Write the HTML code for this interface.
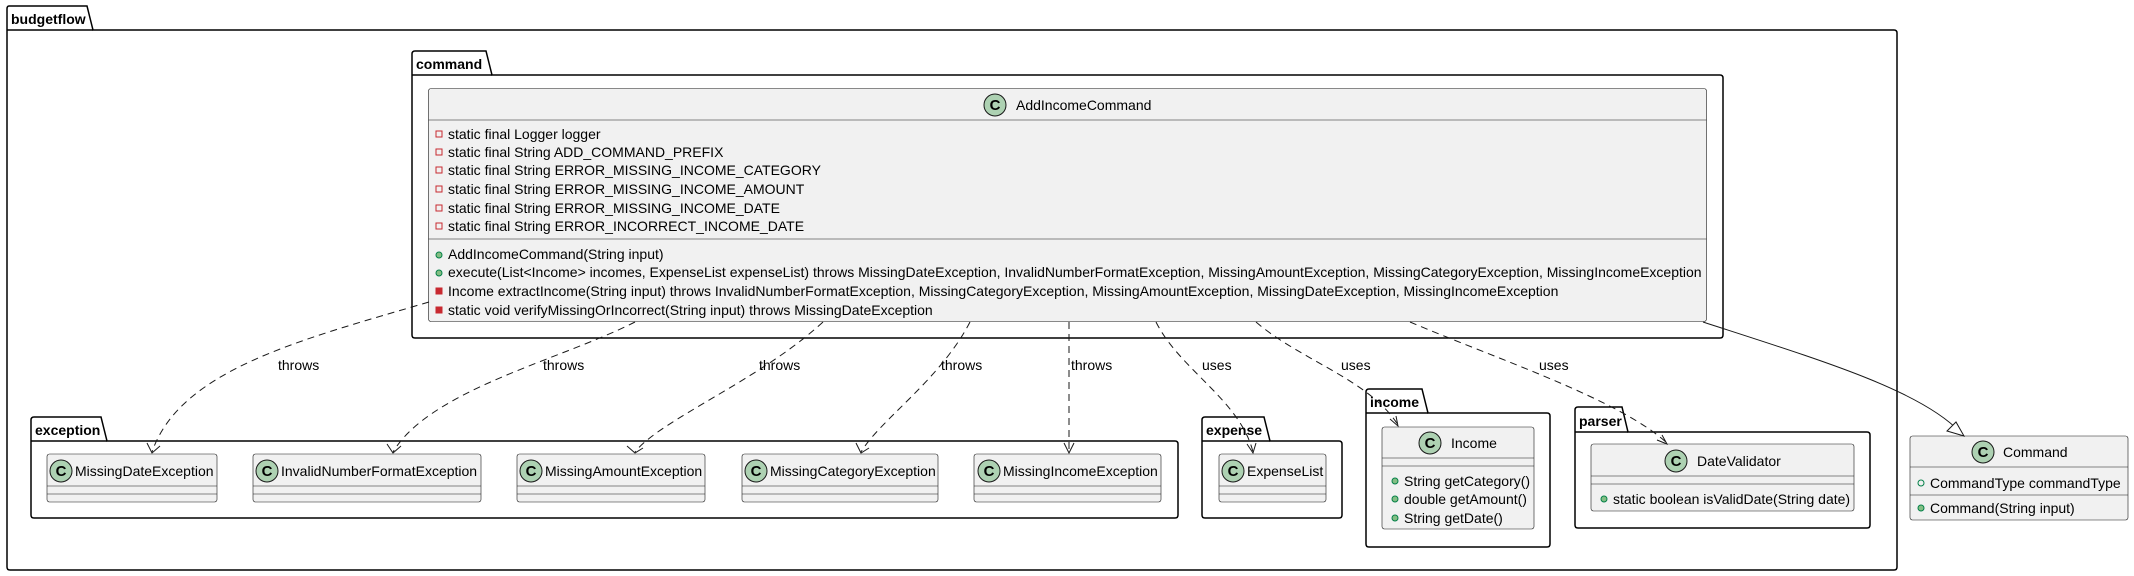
<!DOCTYPE html>
<html><head><meta charset="utf-8"><style>
html,body{margin:0;padding:0;background:#fff;}
svg{display:block;font-family:"Liberation Sans",sans-serif;}
</style></head><body>
<svg width="2134" height="576" viewBox="0 0 2134 576" xmlns="http://www.w3.org/2000/svg">
<defs>
<g id="cicon"><circle r="11" fill="#ADD1B2" stroke="#181818" stroke-width="1"/><text x="0" y="5" text-anchor="middle" font-size="15" font-weight="bold" fill="#000">C</text></g>
</defs>
<g fill="none" stroke="#000" stroke-width="1.5">
<path d="M9,6 L87,6 L93,30 L1894,30 Q1897,30 1897,33 L1897,567 Q1897,570 1894,570 L10,570 Q7,570 7,567 L7,9 Q7,6 9,6 Z"/>
<line x1="7" y1="30" x2="93" y2="30"/>
<path d="M415,51 L486,51 L492,75 L1720,75 Q1723,75 1723,78 L1723,335 Q1723,338 1720,338 L415,338 Q412,338 412,335 L412,54 Q412,51 415,51 Z"/>
<line x1="412" y1="75" x2="492" y2="75"/>
<path d="M34,417 L101,417 L107,441 L1175,441 Q1178,441 1178,444 L1178,515 Q1178,518 1175,518 L34,518 Q31,518 31,515 L31,420 Q31,417 34,417 Z"/>
<line x1="31" y1="441" x2="107" y2="441"/>
<path d="M1205,417 L1264,417 L1270,441 L1339,441 Q1342,441 1342,444 L1342,515 Q1342,518 1339,518 L1205,518 Q1202,518 1202,515 L1202,420 Q1202,417 1205,417 Z"/>
<line x1="1202" y1="441" x2="1270" y2="441"/>
<path d="M1369,389 L1422,389 L1428,413 L1547,413 Q1550,413 1550,416 L1550,544 Q1550,547 1547,547 L1369,547 Q1366,547 1366,544 L1366,392 Q1366,389 1369,389 Z"/>
<line x1="1366" y1="413" x2="1428" y2="413"/>
<path d="M1578,407 L1622,407 L1628,432 L1867,432 Q1870,432 1870,435 L1870,525 Q1870,528 1867,528 L1578,528 Q1575,528 1575,525 L1575,410 Q1575,407 1578,407 Z"/>
<line x1="1575" y1="432" x2="1628" y2="432"/>
</g>
<g font-size="14" font-weight="bold" fill="#000">
<text x="11" y="24">budgetflow</text>
<text x="416" y="69">command</text>
<text x="35" y="435">exception</text>
<text x="1206" y="435">expense</text>
<text x="1370" y="407">income</text>
<text x="1579" y="426">parser</text>
</g>

<g>
<rect x="428.5" y="88.5" width="1278" height="233" rx="2.5" fill="#F1F1F1" stroke="#181818" stroke-width="0.6"/>
<line x1="428.5" y1="120" x2="1706.5" y2="120" stroke="#181818" stroke-width="0.6"/>
<line x1="428.5" y1="239" x2="1706.5" y2="239" stroke="#181818" stroke-width="0.6"/>
<use href="#cicon" x="995" y="105"/>
<text x="1016" y="110" font-size="14">AddIncomeCommand</text>
<g fill="none" stroke="#C82930" stroke-width="1">
<rect x="436" y="131" width="6" height="6"/><rect x="436" y="149" width="6" height="6"/><rect x="436" y="167" width="6" height="6"/><rect x="436" y="186" width="6" height="6"/><rect x="436" y="205" width="6" height="6"/><rect x="436" y="223" width="6" height="6"/>
</g>
<g fill="#84BE84" stroke="#038048" stroke-width="1"><circle cx="439" cy="255" r="3"/><circle cx="439" cy="273" r="3"/></g>
<g fill="#C82930" stroke="#C82930"><rect x="436" y="288" width="6" height="6"/><rect x="436" y="307" width="6" height="6"/></g>
<g font-size="14" fill="#000">
<text x="448" y="139">static final Logger logger</text>
<text x="448" y="157">static final String ADD_COMMAND_PREFIX</text>
<text x="448" y="175">static final String ERROR_MISSING_INCOME_CATEGORY</text>
<text x="448" y="194">static final String ERROR_MISSING_INCOME_AMOUNT</text>
<text x="448" y="213">static final String ERROR_MISSING_INCOME_DATE</text>
<text x="448" y="231">static final String ERROR_INCORRECT_INCOME_DATE</text>
<text x="448" y="259">AddIncomeCommand(String input)</text>
<text x="448" y="277">execute(List&lt;Income&gt; incomes, ExpenseList expenseList) throws MissingDateException, InvalidNumberFormatException, MissingAmountException, MissingCategoryException, MissingIncomeException</text>
<text x="448" y="296">Income extractIncome(String input) throws InvalidNumberFormatException, MissingCategoryException, MissingAmountException, MissingDateException, MissingIncomeException</text>
<text x="448" y="315">static void verifyMissingOrIncorrect(String input) throws MissingDateException</text>
</g>
</g>

<g stroke="#181818" stroke-width="0.6" fill="#F1F1F1">
<rect x="47" y="454" width="170" height="48" rx="2.5"/>
<rect x="253" y="454" width="228" height="48" rx="2.5"/>
<rect x="517" y="454" width="188" height="48" rx="2.5"/>
<rect x="742" y="454" width="196" height="48" rx="2.5"/>
<rect x="974" y="454" width="187" height="48" rx="2.5"/>
<rect x="1219" y="454" width="107" height="48" rx="2.5"/>
<rect x="1382" y="427" width="152" height="102" rx="2.5"/>
<rect x="1591" y="444" width="263" height="67" rx="2.5"/>
<rect x="1910" y="436" width="218" height="84" rx="2.5"/>
</g>
<g stroke="#181818" stroke-width="0.6">
<path d="M47,486H217M47,494H217M253,486H481M253,494H481M517,486H705M517,494H705M742,486H938M742,494H938M974,486H1161M974,494H1161M1219,486H1326M1219,494H1326"/>
<path d="M1382,458H1534M1382,466H1534M1591,476H1854M1591,484H1854M1910,467H2128M1910,495H2128"/>
</g>
<use href="#cicon" x="61" y="471"/><use href="#cicon" x="267" y="471"/><use href="#cicon" x="531" y="471"/><use href="#cicon" x="756" y="471"/><use href="#cicon" x="989" y="471"/><use href="#cicon" x="1233" y="471"/>
<use href="#cicon" x="1430" y="443"/><use href="#cicon" x="1676" y="461"/><use href="#cicon" x="1983" y="452"/>
<g font-size="14" fill="#000">
<text x="75" y="476">MissingDateException</text>
<text x="281" y="476">InvalidNumberFormatException</text>
<text x="545" y="476">MissingAmountException</text>
<text x="770" y="476">MissingCategoryException</text>
<text x="1003" y="476">MissingIncomeException</text>
<text x="1247" y="476">ExpenseList</text>
<text x="1451" y="448">Income</text>
<text x="1697" y="466">DateValidator</text>
<text x="2003" y="457">Command</text>
<text x="1404" y="486">String getCategory()</text>
<text x="1404" y="504">double getAmount()</text>
<text x="1404" y="523">String getDate()</text>
<text x="1613" y="504">static boolean isValidDate(String date)</text>
<text x="1930" y="488">CommandType commandType</text>
<text x="1930" y="513">Command(String input)</text>
</g>
<g fill="#84BE84" stroke="#038048" stroke-width="1">
<circle cx="1395" cy="481" r="3"/><circle cx="1395" cy="499" r="3"/><circle cx="1395" cy="518" r="3"/>
<circle cx="1604" cy="499" r="3"/><circle cx="1921" cy="508" r="3"/>
</g>
<circle cx="1921" cy="483" r="3" fill="none" stroke="#038048" stroke-width="1"/>

<g fill="none" stroke="#181818" stroke-width="1" stroke-dasharray="7,5">
<path d="M429,302 C300,340 180,370 152,452"/>
<path d="M635,322 C560,360 430,390 393,452"/>
<path d="M823,322 C760,380 660,420 635,452"/>
<path d="M970,322 C940,380 880,420 861,452"/>
<path d="M1069,322 L1069,452"/>
<path d="M1156,322 C1180,370 1240,400 1253,452"/>
<path d="M1256,322 C1300,360 1370,380 1398,425"/>
<path d="M1410,322 C1500,360 1620,400 1667,443"/>
</g>
<g fill="none" stroke="#181818" stroke-width="1">
<path d="M147,443 L152,453 L160,446"/>
<path d="M387,444 L393,453 L401,446"/>
<path d="M627,446 L635,453 L643,448"/>
<path d="M856,443 L861,453 L869,448"/>
<path d="M1064,443 L1069,453 L1074,443"/>
<path d="M1247,444 L1253,453 L1256,443"/>
<path d="M1390,419 L1398,426 L1396,416"/>
<path d="M1657,440 L1667,444 L1662,435"/>
<path d="M1703,322 C1820,360 1920,390 1960,432"/>
</g>
<polygon points="1964,436 1947,431 1956,422" fill="#fff" stroke="#181818" stroke-width="1"/>
<g font-size="14" fill="#000">
<text x="278" y="370">throws</text>
<text x="543" y="370">throws</text>
<text x="759" y="370">throws</text>
<text x="941" y="370">throws</text>
<text x="1071" y="370">throws</text>
<text x="1202" y="370">uses</text>
<text x="1341" y="370">uses</text>
<text x="1539" y="370">uses</text>
</g>
</svg>
</body></html>
